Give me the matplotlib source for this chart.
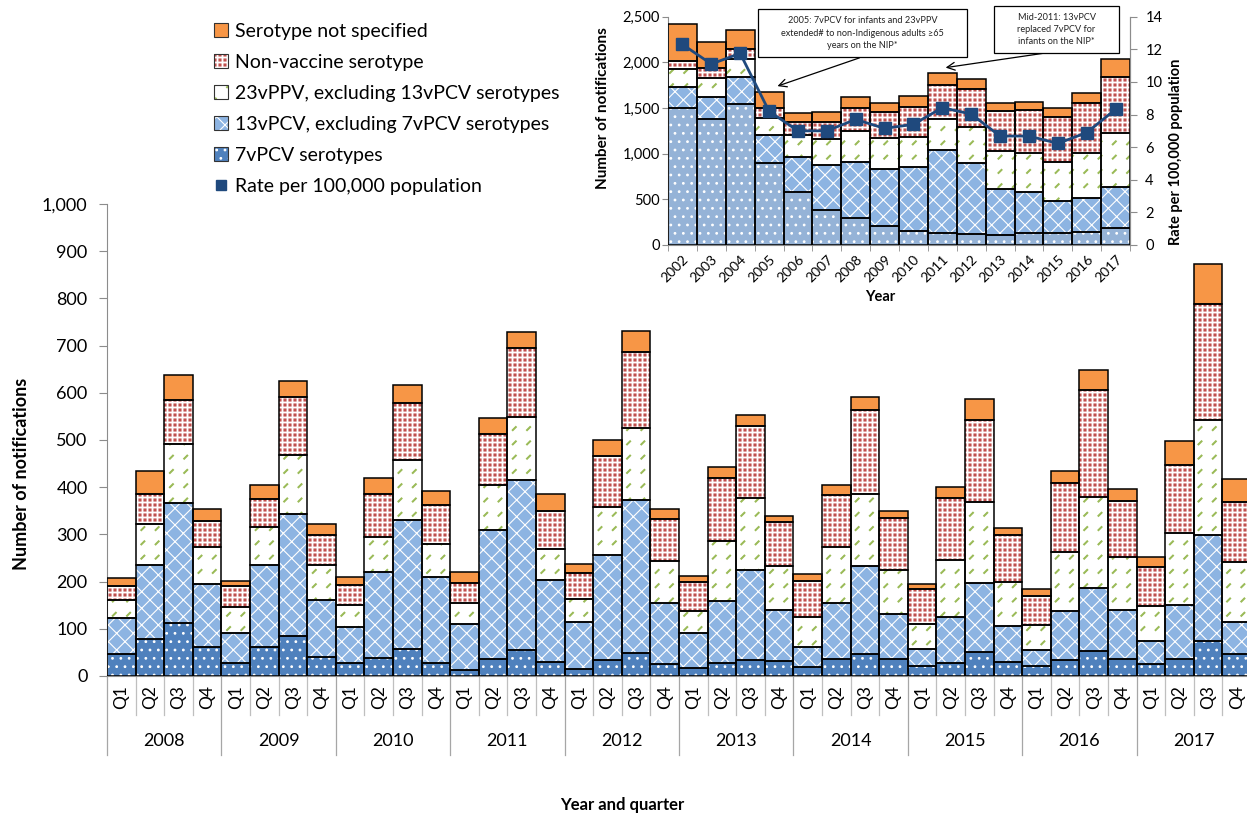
import numpy as np
import matplotlib
matplotlib.use('Agg')
import matplotlib.pyplot as plt
from matplotlib import hatch as mhatch
from matplotlib.path import Path
from matplotlib.patches import Patch, Rectangle
from matplotlib.lines import Line2D
from matplotlib.ticker import FuncFormatter, MultipleLocator

plt.rcParams['font.family'] = ['Lato', 'DejaVu Sans']
plt.rcParams['hatch.linewidth'] = 0.8

W, H = 1247, 814

# quarterly notifications 2008-2017, one value per quarter
years = ['2008', '2009', '2010', '2011', '2012', '2013', '2014', '2015', '2016', '2017']
quarters = ['Q1', 'Q2', 'Q3', 'Q4']

pcv7 = [46, 78, 113, 62, 28, 61, 84, 40, 28, 39, 57, 28, 13, 37, 55, 30, 14, 34, 49, 25,
        16, 28, 34, 32, 19, 36, 46, 36, 21, 27, 51, 29, 21, 34, 53, 36, 26, 36, 74, 46]
pcv13 = [76, 158, 253, 133, 63, 175, 259, 121, 75, 181, 274, 182, 97, 273, 361, 174,
         101, 222, 323, 130, 75, 130, 191, 107, 43, 119, 188, 95, 36, 97, 146, 77,
         35, 104, 134, 103, 48, 115, 225, 69]
ppv23 = [39, 85, 126, 79, 55, 79, 126, 74, 48, 75, 126, 70, 44, 95, 133, 66, 48, 103, 153, 88,
         47, 128, 152, 93, 62, 118, 152, 94, 53, 122, 171, 93, 52, 124, 193, 114, 75, 153, 244, 126]
non_vaccine = [30, 64, 92, 55, 45, 59, 122, 64, 42, 90, 122, 82, 44, 108, 146, 79, 56, 108, 161, 90,
               62, 134, 152, 95, 78, 111, 178, 110, 74, 131, 175, 99, 62, 147, 225, 118, 81, 144, 246, 127]
not_specified = [16, 50, 53, 25, 11, 31, 35, 23, 16, 35, 37, 29, 23, 33, 33, 36, 18, 34, 44, 21,
                 12, 22, 25, 13, 14, 21, 27, 15, 11, 23, 44, 15, 14, 26, 43, 25, 23, 49, 84, 50]

# annual inset 2002-2017
inset_years = [str(y) for y in range(2002, 2018)]
inset_pcv7 = [1497, 1380, 1540, 902, 584, 383, 292, 208, 157, 135, 117, 110, 128, 128, 146, 183]
inset_pcv13 = [237, 244, 296, 303, 376, 493, 621, 621, 701, 905, 777, 503, 449, 354, 372, 456]
inset_ppv23 = [190, 208, 197, 182, 245, 281, 335, 339, 321, 336, 394, 420, 427, 431, 486, 591]
inset_nv = [91, 103, 113, 110, 146, 194, 249, 292, 336, 376, 417, 438, 474, 492, 547, 606]
inset_ns = [401, 284, 208, 175, 91, 109, 127, 91, 120, 128, 113, 80, 84, 92, 110, 201]
rate = [12.3, 11.1, 11.75, 8.2, 7.0, 7.0, 7.7, 7.15, 7.4, 8.42, 8.03, 6.68, 6.68, 6.23, 6.89, 8.32]

labels = ['Serotype not specified', 'Non-vaccine serotype',
          '23vPPV, excluding 13vPCV serotypes', '13vPCV, excluding 7vPCV serotypes',
          '7vPCV serotypes', 'Rate per 100,000 population']


# small shapes on a square grid, to mimic the Excel pattern fills
class GridShapes(mhatch.HatchPatternBase):
    char = '*'
    per_char = 7
    size = 0.3
    verts = [(-0.5, -0.35), (0.35, 0.5), (0.5, 0.35), (-0.35, -0.5), (-0.5, -0.35)]
    codes = [Path.MOVETO, Path.LINETO, Path.LINETO, Path.LINETO, Path.CLOSEPOLY]

    def __init__(self, hatch, density):
        self.n = hatch.count(self.char) * self.per_char
        self.num_vertices = (self.n + 1) ** 2 * len(self.verts) if self.n else 0

    def set_vertices_and_codes(self, vertices, codes):
        step = 1.0 / self.n
        shape = np.asarray(self.verts, float) * step * self.size
        parts = [shape + [c * step, r * step] for r in range(self.n + 1) for c in range(self.n + 1)]
        vertices[:] = np.concatenate(parts)
        codes[:] = np.tile(self.codes, (self.n + 1) ** 2)


class GreenDashes(GridShapes):
    pass


class RedSquares(GridShapes):
    char = 'O'
    per_char = 20
    size = 0.4
    verts = [(-0.5, -0.5), (0.5, -0.5), (0.5, 0.5), (-0.5, 0.5), (-0.5, -0.5)]


mhatch._hatch_types[mhatch._hatch_types.index(mhatch.Stars)] = GreenDashes
mhatch._hatch_types[mhatch._hatch_types.index(mhatch.LargeCircles)] = RedSquares

main_styles = [('#4F81BD', '..', 'white'), ('#8DB4E2', 'xx', 'white'),
               ('white', '*', '#9BBB59'), ('white', 'O', '#C0504D'), ('#F79646', '', 'none')]
inset_styles = [('#95B3D7', '..', 'white'), ('#8DB4E2', 'xx', 'white'),
                ('white', '*', '#9BBB59'), ('white', 'O', '#C0504D'), ('#F79646', '', 'none')]


def stacked(ax, x, layers, styles, lw):
    bottom = np.zeros(len(x))
    for vals, (fc, hatch, hc) in zip(layers, styles):
        vals = np.asarray(vals, float)
        ax.bar(x, vals, width=1.0, bottom=bottom, color=fc, edgecolor=hc,
               hatch=hatch, linewidth=0, zorder=2)
        ax.bar(x, vals, width=1.0, bottom=bottom, fill=False, edgecolor='black',
               linewidth=lw, zorder=3)
        bottom += vals


fig = plt.figure(figsize=(W / 100, H / 100), dpi=100)

# ---- main quarterly chart ----
ax = fig.add_axes([107 / W, (H - 676) / H, (W - 107) / W, 472 / H])
x = np.arange(len(pcv7))
stacked(ax, x, [pcv7, pcv13, ppv23, non_vaccine, not_specified], main_styles, 1.1)
ax.set_xlim(-0.5, -0.5 + 1140 / 28.6)
ax.set_ylim(0, 1000)
ax.yaxis.set_major_locator(MultipleLocator(100))
ax.yaxis.set_major_formatter(FuncFormatter(lambda v, p: f'{v:,.0f}'))
ax.set_xticks([])
for s in ['top', 'right']:
    ax.spines[s].set_visible(False)
ax.spines['left'].set_color('#8C8C8C')
ax.spines['bottom'].set_color('#8C8C8C')
ax.tick_params(axis='y', labelsize=13, length=6, color='#8C8C8C', pad=8)

trans = ax.get_xaxis_transform()
for b in range(len(x) + 1):
    edge = b - 0.5
    if b % 4 == 0:
        ax.plot([edge, edge], [0, -0.167], transform=trans, color='#A6A6A6', lw=0.9, clip_on=False)
    else:
        ax.plot([edge, edge], [0, -0.083], transform=trans, color='#BFBFBF', lw=0.9, clip_on=False)
for i in x:
    ax.text(i, -0.045, quarters[i % 4], rotation=90, ha='center', va='center',
            fontsize=12.5, transform=trans)
for k, yr in enumerate(years):
    ax.text(4 * k + 1.5, -0.138, yr, ha='center', va='center', fontsize=13, transform=trans)

fig.text(22 / W, 1 - 474 / H, 'Number of notifications', rotation=90, fontsize=13,
         fontweight='bold', ha='center', va='center')
fig.text(622 / W, 1 - 805 / H, 'Year and quarter', fontsize=12, fontweight='bold',
         ha='center', va='center')

# ---- legend ----
handles = []
for fc, hatch, hc in main_styles[::-1]:
    handles.append((Patch(facecolor=fc, edgecolor=hc, hatch=hatch, linewidth=0),
                    Patch(fill=False, edgecolor='#333333', linewidth=0.8)))
handles.append(Line2D([], [], marker='s', color='#1F497D', linestyle='none', markersize=7))
fig.legend(handles, labels, loc='upper left', bbox_to_anchor=(214 / W, 1 - 23 / H),
           frameon=False, fontsize=14, handlelength=0.7, handleheight=0.7,
           handletextpad=0.4, labelspacing=0.72, borderaxespad=0, borderpad=0)

# ---- inset annual chart ----
ins = fig.add_axes([668 / W, (H - 245) / H, 462 / W, 228.3 / H])
xi = np.arange(len(inset_years))
stacked(ins, xi, [inset_pcv7, inset_pcv13, inset_ppv23, inset_nv, inset_ns], inset_styles, 1.1)
ins.set_xlim(-0.5, len(xi) - 0.5)
ins.set_ylim(0, 2500)
ins.yaxis.set_major_locator(MultipleLocator(500))
ins.yaxis.set_major_formatter(FuncFormatter(lambda v, p: f'{v:,.0f}'))
ins.set_xticks(xi)
ins.set_xticklabels(inset_years, rotation=45, ha='right', rotation_mode='anchor')
ins.set_xticks(np.arange(len(xi) + 1) - 0.5, minor=True)
ins.tick_params(axis='x', which='major', length=0, labelsize=10, pad=6)
ins.tick_params(axis='x', which='minor', length=4, color='#8C8C8C')
ins.tick_params(axis='y', labelsize=10.5, length=4, color='#8C8C8C', pad=2)
ins.spines['top'].set_visible(False)
for s in ['left', 'bottom', 'right']:
    ins.spines[s].set_color('#8C8C8C')

tw = ins.twinx()
tw.plot(xi, rate, marker='s', color='#1F497D', lw=2, markersize=8, zorder=5)
tw.set_ylim(0, 14)
tw.yaxis.set_major_locator(MultipleLocator(2))
tw.tick_params(axis='y', labelsize=10.5, length=5, color='#8C8C8C', pad=6)
tw.spines['top'].set_visible(False)
tw.spines['right'].set_color('#8C8C8C')
tw.spines['left'].set_visible(False)
tw.spines['bottom'].set_visible(False)

fig.text(603 / W, 1 - 108 / H, 'Number of notifications', rotation=90, fontsize=11,
         fontweight='bold', ha='center', va='center')
fig.text(1176 / W, 1 - 152 / H, 'Rate per 100,000 population', rotation=90, fontsize=10.5,
         fontweight='bold', ha='center', va='center')
fig.text(880 / W, 1 - 297 / H, 'Year', fontsize=10.5, fontweight='bold',
         ha='center', va='center')

# ---- annotation boxes ----
notes = [((758, 9, 209, 48), '2005: 7vPCV for infants and 23vPPV\nextended# to non-Indigenous adults ≥65\nyears on the NIP*'),
         ((994, 6, 125, 47), 'Mid-2011: 13vPCV\nreplaced 7vPCV for\ninfants on the NIP*')]
for (bx, by, bw, bh), txt in notes:
    fig.add_artist(Rectangle((bx / W, 1 - (by + bh) / H), bw / W, bh / H, transform=fig.transFigure,
                             facecolor='white', edgecolor='black', linewidth=0.9, zorder=4))
    fig.text((bx + bw / 2) / W, 1 - (by + bh / 2) / H, txt, fontsize=6.6, ha='center',
             va='center', linespacing=1.45, color='#222222', zorder=5)

arrow = dict(arrowstyle='->', color='black', lw=0.9, mutation_scale=14)
ins.annotate('', xy=(3.2, 1730), xytext=(6.22, 2059), arrowprops=arrow, annotation_clip=False)
ins.annotate('', xy=(9.02, 1938), xytext=(12.56, 2102), arrowprops=arrow, annotation_clip=False)

fig.savefig('out.png', dpi=100)
